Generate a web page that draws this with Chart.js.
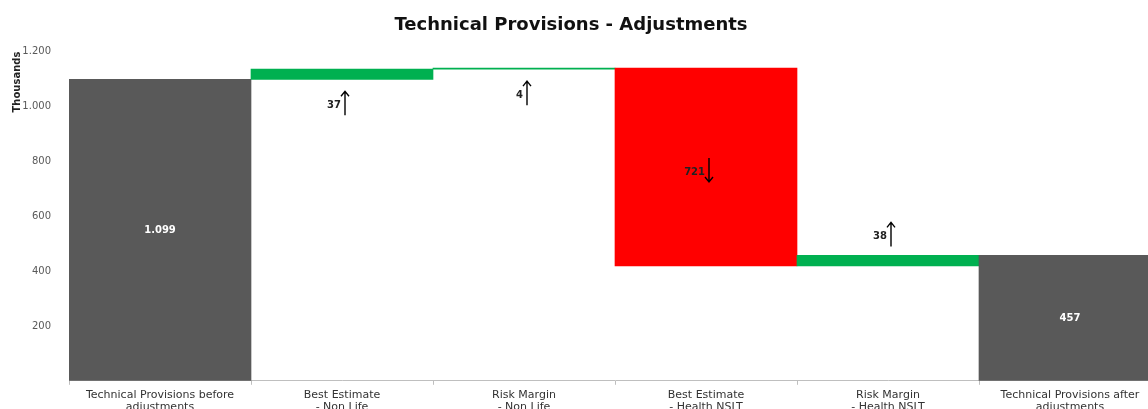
<!DOCTYPE html>
<html>
<head>
<meta charset="utf-8">
<script src="https://cdn.jsdelivr.net/npm/chart.js@4"></script>
<style>
  html, body { margin: 0; padding: 0; background: #fff; overflow: hidden; }
  #wrap { position: absolute; left: -19px; top: 0; width: 1180px; height: 417px; }
</style>
</head>
<body>
<div id="wrap"><canvas id="waterfall"></canvas></div>
<script>
const categories = [
  ['Technical Provisions before', 'adjustments'],
  ['Best Estimate', '- Non Life'],
  ['Risk Margin', '- Non Life'],
  ['Best Estimate', '- Health NSLT'],
  ['Risk Margin', '- Health NSLT'],
  ['Technical Provisions after', 'adjustments']
]
const startValue = 1099
const changes = [37, 4, -721, 38]
const endValue = 457
const yTicks = [0, 200, 400, 600, 800, 1000, 1200]

const grey = '#595959'
const green = '#00b050'
const red = '#ff0000'
const font = '"DejaVu Sans", Verdana, sans-serif'

// floating ranges for the waterfall
const ranges = [[0, startValue]]
let running = startValue
changes.forEach(c => {
  ranges.push([running, running + c])
  running += c
})
ranges.push([0, endValue])

const colors = ranges.map((r, i) => {
  if (i === 0 || i === ranges.length - 1) return grey
  return changes[i - 1] >= 0 ? green : red
})

const fmt = v => String(v).replace(/\B(?=(\d{3})+(?!\d))/g, '.')

const waterfallLabels = {
  id: 'waterfallLabels',
  afterDatasetsDraw(chart) {
    const ctx = chart.ctx
    const y = chart.scales.y
    const meta = chart.getDatasetMeta(0)
    ctx.save()
    meta.data.forEach((bar, i) => {
      const [a, b] = ranges[i]
      const top = y.getPixelForValue(Math.max(a, b))
      const bottom = y.getPixelForValue(Math.min(a, b))
      if (i === 0 || i === ranges.length - 1) {
        ctx.fillStyle = '#fff'
        ctx.font = 'bold 10px ' + font
        ctx.textAlign = 'center'
        ctx.textBaseline = 'middle'
        ctx.fillText(fmt(Math.max(a, b)), bar.x, (top + bottom) / 2)
        return
      }
      const delta = changes[i - 1]
      let cy
      if (delta < 0) cy = (top + bottom) / 2 + 3
      else if (top - chart.chartArea.top < 30) cy = bottom + 24
      else cy = top - 21
      const ax = bar.x + 3
      ctx.strokeStyle = '#000'
      ctx.lineWidth = 1.4
      ctx.beginPath()
      ctx.moveTo(ax, cy - 12)
      ctx.lineTo(ax, cy + 12)
      if (delta >= 0) {
        ctx.moveTo(ax - 4, cy - 7)
        ctx.lineTo(ax, cy - 12)
        ctx.lineTo(ax + 4, cy - 7)
      } else {
        ctx.moveTo(ax - 4, cy + 7)
        ctx.lineTo(ax, cy + 12)
        ctx.lineTo(ax + 4, cy + 7)
      }
      ctx.stroke()
      ctx.fillStyle = '#222'
      ctx.font = 'bold 10px ' + font
      ctx.textAlign = 'right'
      ctx.textBaseline = 'middle'
      ctx.fillText(fmt(Math.abs(delta)), ax - 4, cy + 2)
    })
    ctx.restore()
  }
}

const chart = new Chart(document.getElementById('waterfall').getContext('2d'), {
  type: 'bar',
  plugins: [waterfallLabels],
  data: {
    labels: categories,
    datasets: [{
      data: ranges,
      backgroundColor: colors,
      borderWidth: 0,
      barPercentage: 1,
      categoryPercentage: 1
    }]
  },
  options: {
    responsive: true,
    maintainAspectRatio: false,
    animation: false,
    layout: { padding: 0 },
    scales: {
      x: {
        grid: { display: true, drawOnChartArea: false, tickLength: 4, color: '#bfbfbf' },
        border: { display: true, color: '#bfbfbf' },
        ticks: {
          color: '#333',
          font: { family: font, size: 11, lineHeight: 1.1 },
          maxRotation: 0,
          padding: 4
        }
      },
      y: {
        min: 0,
        max: 1200,
        afterBuildTicks: axis => { axis.ticks = yTicks.map(v => ({ value: v })) },
        afterFit: axis => { axis.width = 88 },
        grid: { display: false },
        border: { display: false },
        ticks: {
          color: '#595959',
          font: { family: font, size: 10 },
          padding: 10,
          callback: v => v === 0 ? '' : fmt(v)
        },
        title: {
          display: true,
          text: 'Thousands',
          align: 'end',
          color: '#222',
          font: { family: font, size: 10, weight: 'bold' },
          padding: { top: 30, bottom: 4 }
        }
      }
    },
    plugins: {
      legend: { display: false },
      tooltip: { enabled: false },
      title: {
        display: true,
        text: 'Technical Provisions - Adjustments',
        color: '#111',
        font: { family: font, size: 18, weight: 'bold' },
        padding: { top: 15, bottom: 15 }
      }
    }
  }
})
</script>
</body>
</html>
